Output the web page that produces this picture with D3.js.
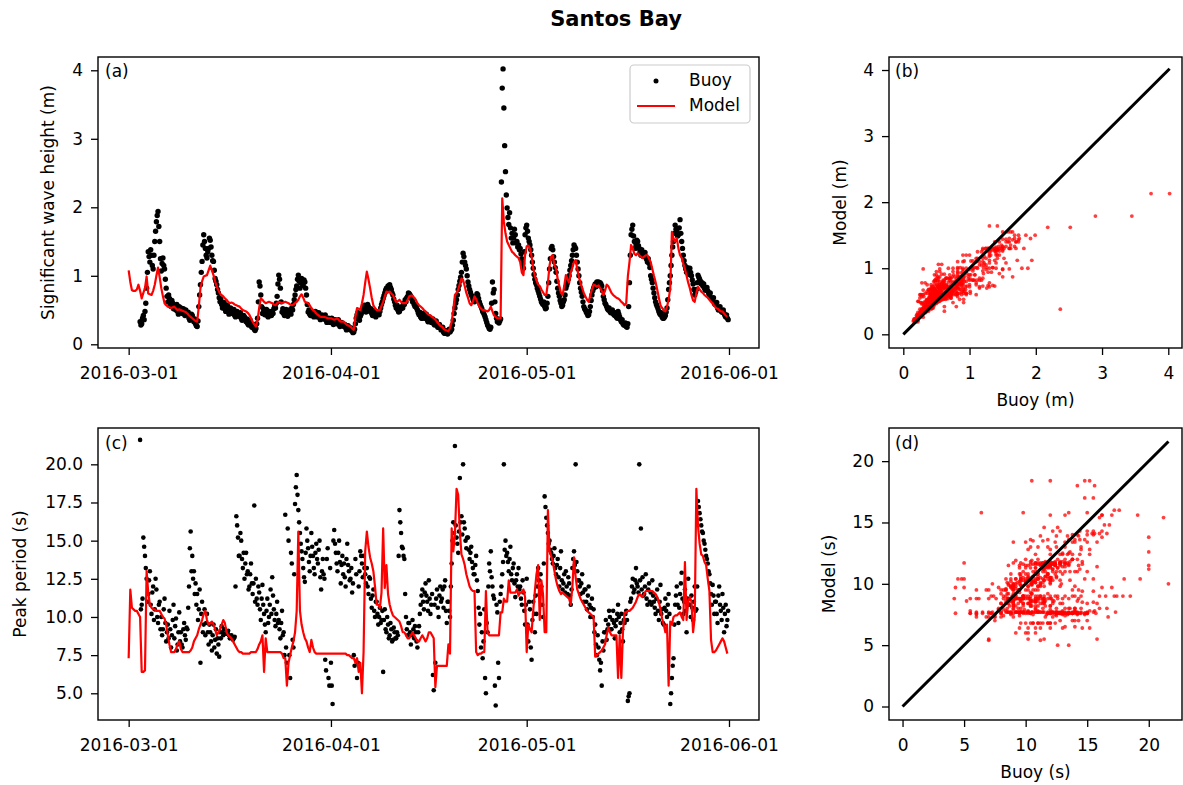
<!DOCTYPE html>
<html><head><meta charset="utf-8">
<script src="https://cdn.jsdelivr.net/npm/d3@7"></script>
<style>body{margin:0;background:#fff} text{font-family:"DejaVu Sans",sans-serif}</style>
</head><body><svg id="c" width="1183" height="785"></svg>
<script>
// ---- data: buoy sampled every 3 h, model every 6 h, from 2016-03-01 00:00 UTC ----
const title = "Santos Bay";
const startDate = "2016-03-01T00:00:00Z";
const buoyStepHours = 3;
const modelStepHours = 6;
const dateTicks = ["2016-03-01","2016-04-01","2016-05-01","2016-06-01"];
const hsTicks = [0,1,2,3,4];
const tpTicks = [5,7.5,10,12.5,15,17.5,20];
const tpScatterTicks = [0,5,10,15,20];

const hsBuoy = [
null,null,null,null,null,null,null,null,
null,null,null,null,null,null,0.33,0.28,
0.30,0.38,0.42,0.36,0.48,0.60,0.82,1.05,
1.35,1.28,1.20,1.38,1.30,1.15,1.10,1.30,
1.50,1.65,1.79,1.88,1.94,1.72,1.50,1.25,
1.07,1.18,1.26,1.15,1.10,0.95,0.82,0.70,
0.62,0.72,0.67,0.58,0.55,0.64,0.60,0.52,
0.57,0.52,0.50,0.58,0.48,0.44,0.55,0.50,
0.53,0.47,0.45,0.52,0.48,0.42,0.50,0.45,
0.43,0.47,0.38,0.35,0.38,0.44,0.42,0.36,
0.33,0.37,0.30,0.27,0.26,0.34,0.55,0.72,
0.87,1.05,1.21,1.45,1.60,1.50,1.40,1.30,
1.26,1.35,1.40,1.55,1.52,1.42,1.30,1.22,
1.21,1.08,0.96,0.92,0.87,0.80,0.75,0.68,
0.62,0.66,0.58,0.53,0.57,0.61,0.52,0.48,
0.53,0.57,0.48,0.44,0.47,0.53,0.50,0.45,
0.47,0.51,0.42,0.40,0.43,0.48,0.45,0.41,
0.43,0.46,0.38,0.35,0.38,0.42,0.40,0.36,
0.33,0.37,0.30,0.28,0.31,0.35,0.28,0.25,
0.26,0.29,0.22,0.20,0.23,0.30,0.38,0.62,
0.91,0.85,0.72,0.55,0.45,0.52,0.48,0.43,
0.47,0.51,0.42,0.40,0.43,0.48,0.46,0.42,
0.48,0.45,0.52,0.56,0.53,0.60,0.70,0.88,
1.01,0.95,0.82,0.62,0.47,0.52,0.45,0.42,
0.47,0.51,0.44,0.41,0.45,0.50,0.48,0.44,
0.53,0.50,0.58,0.65,0.72,0.80,0.85,0.95,
1.01,0.92,0.82,0.90,0.96,0.88,0.86,0.94,
0.91,0.82,0.72,0.58,0.47,0.50,0.44,0.42,
0.43,0.47,0.42,0.40,0.45,0.48,0.44,0.40,
0.43,0.46,0.39,0.36,0.38,0.43,0.41,0.37,
0.40,0.43,0.35,0.32,0.33,0.38,0.36,0.32,
0.35,0.38,0.31,0.29,0.31,0.36,0.34,0.30,
0.33,0.36,0.29,0.26,0.28,0.32,0.30,0.27,
0.26,0.29,0.24,0.21,0.23,0.27,0.25,0.22,
0.21,0.24,0.19,0.17,0.18,0.22,0.30,0.38,
0.43,0.46,0.38,0.35,0.41,0.44,0.47,0.50,
0.53,0.57,0.50,0.47,0.53,0.58,0.55,0.50,
0.48,0.52,0.45,0.42,0.45,0.49,0.42,0.40,
0.43,0.47,0.45,0.43,0.48,0.53,0.58,0.62,
0.67,0.71,0.75,0.79,0.82,0.78,0.85,0.80,
0.87,0.83,0.80,0.75,0.72,0.66,0.62,0.57,
0.53,0.57,0.50,0.47,0.48,0.54,0.52,0.55,
0.53,0.60,0.58,0.65,0.62,0.68,0.70,0.75,
0.74,0.72,0.70,0.66,0.62,0.65,0.58,0.55,
0.57,0.53,0.50,0.46,0.43,0.47,0.40,0.38,
0.38,0.45,0.42,0.38,0.40,0.44,0.36,0.33,
0.35,0.40,0.37,0.32,0.33,0.37,0.30,0.28,
0.31,0.34,0.28,0.25,0.25,0.29,0.24,0.21,
0.22,0.25,0.18,0.16,0.16,0.20,0.17,0.15,
0.19,0.22,0.18,0.20,0.22,0.28,0.35,0.45,
0.53,0.60,0.65,0.72,0.80,0.86,0.92,0.98,
1.05,1.20,1.33,1.28,1.20,1.15,1.10,1.00,
0.91,0.85,0.80,0.76,0.72,0.70,0.66,0.64,
0.62,0.66,0.70,0.74,0.72,0.67,0.62,0.58,
0.55,0.52,0.48,0.46,0.43,0.40,0.36,0.32,
0.28,0.26,0.23,0.22,0.25,0.60,0.91,0.75,
0.80,0.62,0.45,0.38,0.33,0.36,0.31,0.34,
0.37,2.37,3.74,4.02,3.45,2.90,2.52,2.18,
1.99,1.85,1.75,1.92,1.70,1.55,1.62,1.48,
1.55,1.68,1.60,1.48,1.50,1.42,1.45,1.38,
1.40,1.32,1.25,1.18,1.11,1.35,1.60,1.70,
1.74,1.65,1.55,1.50,1.45,1.38,1.30,1.20,
1.11,1.02,0.95,0.90,0.87,0.82,0.78,0.74,
0.70,0.66,0.62,0.60,0.58,0.62,0.55,0.52,
0.53,0.60,0.70,0.90,1.10,1.25,1.40,1.43,
1.38,1.28,1.20,1.12,1.05,0.92,0.82,0.75,
0.70,0.64,0.60,0.55,0.57,0.62,0.65,0.72,
0.82,0.86,0.90,0.95,1.00,1.08,1.15,1.22,
1.30,1.38,1.45,1.42,1.40,1.30,1.20,1.10,
1.00,0.90,0.82,0.76,0.70,0.62,0.55,0.52,
0.50,0.47,0.45,0.42,0.43,0.48,0.55,0.64,
0.72,0.78,0.82,0.85,0.88,0.84,0.91,0.87,
0.91,0.86,0.90,0.88,0.85,0.78,0.70,0.65,
0.60,0.58,0.55,0.52,0.50,0.53,0.48,0.46,
0.47,0.50,0.45,0.43,0.42,0.46,0.40,0.38,
0.48,0.44,0.40,0.36,0.33,0.36,0.30,0.28,
0.28,0.31,0.26,0.25,0.30,0.55,0.90,1.30,
1.60,1.68,1.74,1.58,1.50,1.40,1.45,1.52,
1.50,1.44,1.40,1.35,1.30,1.38,1.32,1.28,
1.30,1.34,1.28,1.24,1.20,1.25,1.18,1.12,
1.00,0.95,0.90,0.82,0.75,0.68,0.62,0.58,
0.55,0.52,0.48,0.45,0.43,0.46,0.40,0.38,
0.38,0.40,0.42,0.47,0.53,0.65,0.80,0.90,
1.00,1.15,1.30,1.42,1.50,1.62,1.74,1.68,
1.65,1.58,1.60,1.70,1.82,1.62,1.50,1.40,
1.30,1.22,1.15,1.10,1.05,1.12,1.08,1.02,
1.11,1.05,1.00,0.94,0.88,0.80,0.72,0.76,
0.80,0.90,1.01,0.98,0.95,0.92,0.88,0.90,
0.85,0.88,0.82,0.79,0.80,0.83,0.78,0.75,
0.72,0.75,0.68,0.66,0.65,0.68,0.60,0.58,
0.58,0.61,0.53,0.50,0.52,0.55,0.50,0.47,
0.47,0.50,0.45,0.42,0.40,0.43,0.38,0.36
];

const hsModel = [
1.08,0.91,0.79,0.78, 0.78,0.80,0.87,0.78, 0.67,0.75,0.82,0.99, 0.74,0.73,0.72,0.78,
0.87,1.00,1.12,0.98, 0.82,0.70,0.60,0.57, 0.55,0.54,0.53,0.54, 0.55,0.52,0.50,0.51,
0.50,0.49,0.48,0.47, 0.45,0.42,0.40,0.38, 0.36,0.34,0.33,0.55, 0.82,0.92,0.99,1.00,
1.01,1.08,1.15,1.08, 1.01,0.92,0.84,0.79, 0.74,0.72,0.70,0.67, 0.65,0.62,0.60,0.61,
0.60,0.58,0.57,0.56, 0.55,0.52,0.50,0.49, 0.48,0.46,0.43,0.38, 0.33,0.29,0.26,0.35,
0.53,0.67,0.65,0.62, 0.60,0.61,0.62,0.61, 0.60,0.58,0.57,0.60, 0.62,0.61,0.60,0.61,
0.62,0.61,0.60,0.58, 0.57,0.58,0.60,0.62, 0.65,0.70,0.73,0.68, 0.62,0.61,0.60,0.57,
0.53,0.50,0.48,0.45, 0.43,0.41,0.40,0.40, 0.40,0.39,0.38,0.38, 0.38,0.37,0.36,0.37,
0.38,0.35,0.33,0.33, 0.33,0.30,0.28,0.27, 0.26,0.23,0.21,0.40, 0.53,0.52,0.50,0.60,
0.72,0.90,1.06,0.95, 0.82,0.68,0.57,0.53, 0.50,0.50,0.50,0.56, 0.62,0.70,0.77,0.76,
0.77,0.74,0.72,0.66, 0.62,0.63,0.65,0.62, 0.60,0.60,0.60,0.65, 0.70,0.71,0.71,0.68,
0.65,0.60,0.57,0.55, 0.53,0.50,0.48,0.45, 0.43,0.42,0.40,0.38, 0.36,0.33,0.30,0.27,
0.26,0.23,0.21,0.20, 0.19,0.24,0.33,0.50, 0.72,0.75,0.80,0.88, 0.96,0.94,0.85,0.75,
0.68,0.60,0.57,0.62, 0.70,0.66,0.60,0.55, 0.52,0.50,0.50,0.49, 0.48,0.50,0.55,0.48,
0.42,0.40,0.38,0.38, 0.38,2.13,1.79,1.62, 1.50,1.45,1.40,1.35, 1.33,1.30,1.28,1.26,
1.20,1.05,1.01,1.30, 1.43,1.44,1.40,1.28, 1.11,1.00,0.93,0.87, 0.85,0.80,0.76,0.72,
0.72,0.90,1.15,1.28, 1.30,1.15,1.11,0.95, 0.85,0.75,0.72,0.85, 1.01,0.95,0.90,1.05,
1.12,1.20,1.23,1.10, 0.98,0.90,0.82,0.75, 0.70,0.65,0.62,0.72, 0.80,0.87,0.86,0.84,
0.86,0.82,0.78,0.72, 0.78,0.87,0.85,0.80, 0.75,0.72,0.70,0.68, 0.67,0.65,0.62,0.60,
0.57,0.60,0.99,1.20, 1.45,1.40,1.32,1.30, 1.33,1.30,1.28,1.26, 1.28,1.30,1.30,1.25,
1.20,1.10,1.00,0.91, 0.80,0.68,0.57,0.53, 0.50,0.48,0.55,0.65, 0.82,1.64,1.55,1.50,
1.55,1.40,1.30,1.26, 1.18,1.10,1.00,0.90, 0.82,0.72,0.64,0.62, 0.75,0.84,0.80,0.77,
0.75,0.72,0.70,0.68, 0.65,0.62,0.60,0.56, 0.53,0.52,0.50,0.48, 0.48,0.45,0.42,0.40
];

const tpBuoy = [
null,null,null,null,null,null,null,null,
null,null,null,null,null,null,21.6,10.5,
10.8,11.2,15.2,14.6,14.0,13.2,12.5,11.0,
11.5,12.4,13.0,10.8,10.2,11.6,12.0,9.8,
10.5,12.5,11.8,10.0,9.6,10.8,11.0,9.2,
10.0,8.8,9.2,10.5,11.2,9.6,8.4,9.0,
9.5,8.6,10.4,9.2,8.0,8.8,9.8,10.8,
8.6,9.4,9.9,7.8,8.2,9.0,10.3,8.4,
9.0,8.2,8.0,9.2,9.6,8.8,8.5,9.3,
9.2,10.6,12.0,14.5,15.6,13.0,14.0,12.5,
13.0,11.5,12.2,10.8,11.5,9.8,10.5,11.8,
7.0,10.2,11.0,9.0,9.5,10.5,8.8,9.6,
10.2,9.0,8.2,9.5,9.0,8.4,7.8,8.8,
9.5,8.0,8.5,9.2,7.6,8.6,8.2,7.4,
9.0,8.6,9.4,9.0,8.8,9.2,9.2,8.9,
8.9,9.0,9.1,8.8,8.6,8.7,8.8,8.6,
8.5,8.6,8.7,12.0,16.6,16.0,15.2,14.0,
14.0,15.5,15.0,13.8,13.2,14.2,12.5,13.5,
14.2,12.8,13.0,11.8,12.0,12.8,13.5,12.2,
11.5,12.2,17.3,11.0,12.5,11.2,10.8,12.0,
11.6,10.5,9.8,11.2,12.1,10.8,10.2,9.5,
9.0,10.4,11.2,9.6,10.0,10.8,11.8,10.2,
12.6,11.4,10.5,9.8,9.4,10.2,11.0,9.6,
9.8,9.2,8.6,9.6,10.4,8.8,9.0,7.5,
16.7,8.0,7.0,15.8,15.0,7.5,6.0,14.2,
13.5,8.5,8.0,12.8,17.4,18.5,19.3,18.0,
17.0,16.2,15.5,14.8,14.3,13.8,13.2,12.6,
12.3,14.2,15.8,15.0,14.5,13.6,13.0,14.0,
15.5,14.6,14.0,13.2,12.8,14.2,14.8,13.8,
13.5,14.4,15.0,12.6,11.8,13.0,13.8,12.8,
12.5,7.2,6.5,13.8,14.5,6.0,5.5,13.2,
7.0,5.5,4.3,15.0,15.7,14.8,14.2,13.5,
13.0,14.2,15.0,13.6,12.2,13.4,14.0,12.8,
13.5,12.6,12.0,13.8,14.8,13.4,13.0,12.4,
12.5,13.2,11.6,12.2,7.5,6.8,13.8,12.8,
6.0,7.0,12.0,13.0,14.3,14.0,13.5,12.6,
14.0,13.2,12.8,12.2,13.2,12.0,11.5,12.6,
12.5,11.2,10.6,11.4,11.8,10.4,10.0,11.0,
11.0,10.2,9.5,10.0,10.6,9.6,9.8,10.4,
6.4,9.8,10.5,9.2,9.0,10.0,9.5,8.6,
8.8,9.6,9.2,8.4,8.5,9.3,9.0,8.6,
8.6,9.0,8.8,14.0,17.0,16.2,15.5,14.6,
14.5,14.0,13.8,11.5,10.0,9.2,8.8,9.6,
9.6,9.0,8.2,8.8,9.8,9.2,8.6,9.4,
9.0,8.4,8.0,9.0,9.4,10.2,10.8,11.4,
11.8,11.0,10.5,11.6,12.2,11.4,11.0,10.4,
12.4,11.2,10.2,10.8,11.5,6.2,5.2,10.8,
7.0,11.2,11.8,10.6,10.0,11.4,12.0,11.0,
11.2,11.8,10.6,12.0,12.4,10.4,9.6,11.0,
11.0,10.4,10.0,12.0,13.5,15.0,16.2,15.5,
21.2,16.0,15.2,14.8,14.2,15.6,19.1,16.2,
16.6,15.4,20.0,16.2,15.8,15.0,14.5,15.2,
15.2,14.4,13.8,14.2,14.6,13.6,13.2,12.8,
12.8,13.4,14.0,12.4,11.7,10.6,9.5,10.2,
8.0,9.0,7.3,8.4,10.5,6.0,5.0,9.6,
9.0,12.0,13.5,13.0,14.3,12.6,12.0,11.4,
11.2,5.5,4.2,10.8,10.3,7.0,6.0,11.0,
11.5,12.0,12.8,13.6,20.0,14.4,15.0,14.0,
14.2,13.6,13.0,13.8,14.6,12.8,12.4,13.2,
13.5,12.2,11.3,12.4,12.8,12.0,13.2,11.8,
12.0,11.2,10.8,12.4,11.6,10.4,9.5,10.8,
12.5,9.5,8.4,11.0,10.5,8.0,7.2,9.8,
11.0,10.2,9.0,11.4,10.2,12.0,13.2,12.4,
11.5,12.8,12.0,10.8,10.0,13.5,17.9,17.2,
16.5,16.0,15.5,14.8,15.0,14.4,14.2,13.8,
13.5,14.0,14.5,13.2,12.8,13.4,13.8,12.6,
12.0,13.2,14.3,12.4,11.8,12.2,12.8,11.6,
13.0,12.0,11.5,12.6,12.2,11.4,10.8,11.8,
13.2,13.8,14.3,13.4,20.0,13.6,13.0,12.4,
12.4,12.0,11.5,12.2,12.8,11.6,11.0,11.8,
11.8,11.0,10.5,11.4,12.0,10.8,10.0,10.6,
11.2,10.0,10.5,9.0,9.5,8.2,7.5,8.8,
8.0,7.2,6.5,7.0,5.5,8.4,7.8,9.0,
9.0,9.8,8.5,9.2,9.5,10.4,10.0,9.2,
9.2,9.8,10.4,9.6,8.6,9.4,9.8,10.2,
10.8,10.0,9.0,9.6,10.2,9.2,8.4,9.8,
9.6,10.2,10.4,9.8,4.5,4.8,5.0,11.0,
11.2,12.0,12.5,11.6,11.8,12.4,13.2,12.2,
12.0,11.6,20.0,12.4,15.8,11.8,12.6,11.4,
11.5,12.0,12.8,11.2,10.8,11.8,12.2,11.0,
11.6,10.8,12.4,11.4,11.0,10.6,10.2,11.2,
11.8,10.4,9.8,11.0,12.1,10.2,10.5,9.6,
9.5,10.6,11.2,10.4,10.0,10.8,11.5,10.2,
4.3,5.0,6.0,6.8,7.3,9.5,10.8,11.4,
12.0,10.8,9.6,10.6,11.5,12.2,12.9,11.2,
10.2,11.0,11.8,10.4,9.0,11.2,12.5,10.8,
10.8,10.0,11.4,10.6,9.8,11.0,12.0,10.4,
10.5,12.0,17.6,17.2,16.8,16.4,16.0,15.6,
15.5,15.0,14.8,14.4,14.0,13.8,13.5,13.0,
12.8,12.2,11.5,10.8,12.1,11.4,10.2,11.0,
11.0,10.2,9.6,11.4,12.0,10.8,10.4,9.8,
11.5,10.6,9.0,10.2,10.8,9.4,9.8,10.4
];

const tpModel = [
7.3,11.8,10.6,10.5, 10.4,10.4,10.2,10.0, 6.4,6.4,6.5,13.0, 11.6,10.8,10.6,10.5,
10.5,10.4,10.4,10.4, 10.2,10.0,9.9,9.5, 8.8,8.2,7.7,7.7, 7.7,7.9,8.2,8.4,
7.9,7.7,7.7,7.7, 7.7,7.7,7.8,8.0, 8.4,8.6,8.8,9.2, 9.5,9.8,10.2,10.4,
9.8,9.5,9.6,9.7, 9.5,9.2,8.8,9.0, 9.2,9.5,9.8,9.6, 9.0,8.8,8.7,8.6,
8.4,8.2,8.0,7.8, 7.7,7.7,7.6,7.6, 7.6,7.6,7.6,7.7, 7.7,7.7,7.7,7.9,
8.2,8.4,8.8,6.4, 8.6,7.7,7.7,7.7, 7.7,7.7,7.7,7.7, 7.7,7.7,7.6,7.3,
7.3,5.5,7.0,7.5, 8.0,8.4,9.0,10.4, 15.6,10.4,9.5,9.0, 8.6,8.4,8.0,7.7,
8.5,8.0,7.7,7.6, 7.6,7.6,7.6,7.6, 7.6,7.6,7.6,7.6, 7.6,7.6,7.6,7.6,
7.6,7.6,7.6,7.6, 7.6,7.6,7.5,7.5, 7.4,7.3,7.3,7.0, 7.3,6.4,7.0,5.0,
7.7,14.3,15.6,14.6, 13.9,13.5,13.0,12.0, 10.8,10.8,10.6,11.6, 15.8,11.9,13.4,11.5,
10.8,10.4,10.1,10.0, 9.9,9.8,9.7,9.4, 9.0,9.0,8.8,8.6, 8.6,8.8,9.0,8.8,
8.6,8.4,8.4,8.6, 8.8,8.6,8.4,8.6, 9.0,9.0,8.8,8.6, 5.4,6.8,6.8,6.8,
6.8,6.8,6.8,6.8, 8.2,7.6,15.8,14.3, 15.4,18.4,18.0,15.6, 14.1,13.8,13.4,12.8,
12.4,12.0,11.8,11.7, 11.7,7.7,7.5,7.6, 7.6,7.7,7.7,11.7, 9.0,8.8,8.8,8.8,
8.8,8.8,8.8,8.8, 10.3,10.3,11.2,11.0, 11.0,12.4,11.6,11.6, 11.6,11.6,11.8,11.4,
11.6,11.6,11.8,11.3, 7.7,9.5,9.2,9.0, 10.4,11.7,12.8,13.4, 9.8,12.4,11.5,9.0,
9.0,17.0,14.3,14.0, 13.6,13.0,12.4,12.0, 11.7,11.5,11.6,11.5, 11.4,11.3,11.2,10.8,
12.0,13.9,12.6,11.8, 11.5,11.2,11.0,10.8, 10.6,10.4,10.3,10.2, 10.1,10.0,7.4,7.5,
7.6,7.7,7.8,8.0, 8.2,8.8,9.3,9.0, 8.8,8.8,8.8,8.8, 6.0,8.8,6.0,9.0,
10.3,10.3,10.4,10.4, 10.5,10.6,10.8,11.0, 11.3,11.5,11.4,11.3, 11.5,11.7,11.7,11.7,
11.7,11.7,11.6,11.5, 11.3,11.0,10.5,9.9, 9.5,9.0,9.5,5.5, 9.7,9.5,10.0,10.1,
10.1,10.2,10.3,10.0, 9.8,13.6,9.8,11.0, 11.3,11.0,9.0,10.0, 18.4,16.0,14.8,14.1,
14.0,13.6,13.4,12.5, 11.7,8.5,7.7,7.7, 7.8,8.0,8.2,8.4, 8.6,8.4,8.0,7.6
];

// ---- drawing ----
const svg = d3.select("#c");
const FS = 17;
const DAY = 864e5;
const t0 = Date.parse(startDate);
const timeAt = (i, step) => new Date(t0 + i * step * 3600e3);
const tickDates = dateTicks.map(d => new Date(d + "T00:00:00Z"));

const A = {x0: 98, x1: 759, y0: 57, y1: 348};
const C = {x0: 98, x1: 759, y0: 428, y1: 720};
const B = {x0: 889, x1: 1182, y0: 57, y1: 348};
const D = {x0: 889, x1: 1182, y0: 428, y1: 720};

const xT = d3.scaleUtc()
  .domain([new Date(t0 - 4.7 * DAY), new Date(tickDates[3].getTime() + 4.6 * DAY)])
  .range([A.x0, A.x1]);
const yHs = d3.scaleLinear().domain([-0.054, 4.194]).range([A.y1, A.y0]);
const yTp = d3.scaleLinear().domain([3.25, 22.38]).range([C.y1, C.y0]);
const xB = d3.scaleLinear().domain([-0.216, 4.207]).range([B.x0, B.x1]);
const yB = d3.scaleLinear().domain([-0.207, 4.197]).range([B.y1, B.y0]);
const xD = d3.scaleLinear().domain([-1.1, 22.7]).range([D.x0, D.x1]);
const yD = d3.scaleLinear().domain([-1.1, 22.7]).range([D.y1, D.y0]);

const defs = svg.append("defs");
function clip(id, P) {
  defs.append("clipPath").attr("id", id).append("rect")
    .attr("x", P.x0).attr("y", P.y0).attr("width", P.x1 - P.x0).attr("height", P.y1 - P.y0);
}
clip("ca", A); clip("cb", B); clip("cc", C); clip("cd", D);

function styleAxis(g) {
  g.select(".domain").remove();
  g.selectAll(".tick line").attr("stroke", "#000").attr("stroke-width", 1.3);
  g.selectAll(".tick text").attr("fill", "#000").style("font-size", FS + "px")
    .style("font-family", "'DejaVu Sans', sans-serif");
}
function xAxis(scale, P, ticks, fmt) {
  const ax = d3.axisBottom(scale).tickValues(ticks).tickSize(7).tickPadding(12);
  if (fmt) ax.tickFormat(fmt);
  svg.append("g").attr("transform", `translate(0,${P.y1})`).call(ax).call(styleAxis);
}
function yAxis(scale, P, ticks, fmt) {
  const ax = d3.axisLeft(scale).tickValues(ticks).tickSize(7).tickPadding(8);
  if (fmt) ax.tickFormat(fmt);
  svg.append("g").attr("transform", `translate(${P.x0},0)`).call(ax).call(styleAxis);
}
function frame(P) {
  svg.append("rect").attr("x", P.x0).attr("y", P.y0)
    .attr("width", P.x1 - P.x0).attr("height", P.y1 - P.y0)
    .attr("fill", "none").attr("stroke", "#000").attr("stroke-width", 1.4);
}
function label(txt, x, y, rot, anchor) {
  const t = svg.append("text").text(txt).attr("fill", "#000").style("font-size", FS + "px")
    .attr("text-anchor", anchor || "middle");
  if (rot) t.attr("transform", `translate(${x},${y}) rotate(-90)`);
  else t.attr("x", x).attr("y", y);
  return t;
}

svg.append("text").text(title).attr("x", 616).attr("y", 26).attr("text-anchor", "middle")
  .style("font-size", "21px").style("font-weight", "bold").attr("fill", "#000");

// ---- time series panels ----
function seriesPanel(clipId, yScale, buoy, model, r) {
  const g = svg.append("g").attr("clip-path", `url(#${clipId})`);
  const pts = buoy.map((v, i) => ({t: timeAt(i, buoyStepHours), v})).filter(d => d.v != null);
  g.selectAll("circle").data(pts).join("circle")
    .attr("cx", d => xT(d.t)).attr("cy", d => yScale(d.v)).attr("r", r).attr("fill", "#000");
  const line = d3.line().defined(d => d != null)
    .x((d, i) => xT(timeAt(i, modelStepHours))).y(d => yScale(d));
  g.append("path").datum(model).attr("d", line).attr("fill", "none")
    .attr("stroke", "#ff0000").attr("stroke-width", 2.2).attr("stroke-linejoin", "round");
}
seriesPanel("ca", yHs, hsBuoy, hsModel, 2.7);
seriesPanel("cc", yTp, tpBuoy, tpModel, 2.3);
frame(A); frame(C);
const dateFmt = d3.utcFormat("%Y-%m-%d");
xAxis(xT, A, tickDates, dateFmt);
xAxis(xT, C, tickDates, dateFmt);
yAxis(yHs, A, hsTicks, d3.format("d"));
yAxis(yTp, C, tpTicks, d3.format(".1f"));

// legend
const lg = svg.append("g");
lg.append("rect").attr("x", 630).attr("y", 65).attr("width", 120).attr("height", 58).attr("rx", 4)
  .attr("fill", "#fff").attr("fill-opacity", 0.8).attr("stroke", "#cccccc").attr("stroke-width", 1.2);
lg.append("circle").attr("cx", 656).attr("cy", 81).attr("r", 2.5).attr("fill", "#000");
lg.append("line").attr("x1", 637).attr("x2", 675).attr("y1", 106).attr("y2", 106)
  .attr("stroke", "#ff0000").attr("stroke-width", 2.2);
label("Buoy", 689, 86, false, "start");
label("Model", 689, 111, false, "start");

// ---- scatter panels: each buoy sample paired with the model sample at or before it ----
function scatterPanel(clipId, xs, ys, buoy, model) {
  const g = svg.append("g").attr("clip-path", `url(#${clipId})`);
  const ratio = buoyStepHours / modelStepHours;
  const pts = [];
  buoy.forEach((b, j) => {
    const m = model[Math.floor(j * ratio)];
    if (b != null && m != null) pts.push([b, m]);
  });
  g.selectAll("circle").data(pts).join("circle")
    .attr("cx", d => xs(d[0])).attr("cy", d => ys(d[1])).attr("r", 1.9)
    .attr("fill", "#ff0000").attr("fill-opacity", 0.75);
  const mx = d3.max(buoy);
  g.append("line").attr("x1", xs(0)).attr("y1", ys(0)).attr("x2", xs(mx)).attr("y2", ys(mx))
    .attr("stroke", "#000").attr("stroke-width", 3);
}
scatterPanel("cb", xB, yB, hsBuoy, hsModel);
scatterPanel("cd", xD, yD, tpBuoy, tpModel);
frame(B); frame(D);
xAxis(xB, B, hsTicks, d3.format("d"));
yAxis(yB, B, hsTicks, d3.format("d"));
xAxis(xD, D, tpScatterTicks, d3.format("d"));
yAxis(yD, D, tpScatterTicks, d3.format("d"));

label("(a)", 105, 77, false, "start");
label("(b)", 895, 77, false, "start");
label("(c)", 105, 449, false, "start");
label("(d)", 895, 449, false, "start");

label("Significant wave height (m)", 54, (A.y0 + A.y1) / 2, true);
label("Peak period (s)", 26, (C.y0 + C.y1) / 2, true);
label("Model (m)", 846, (B.y0 + B.y1) / 2, true);
label("Model (s)", 835, (D.y0 + D.y1) / 2, true);
label("Buoy (m)", (B.x0 + B.x1) / 2, 406);
label("Buoy (s)", (D.x0 + D.x1) / 2, 778);
</script>
</body></html>
